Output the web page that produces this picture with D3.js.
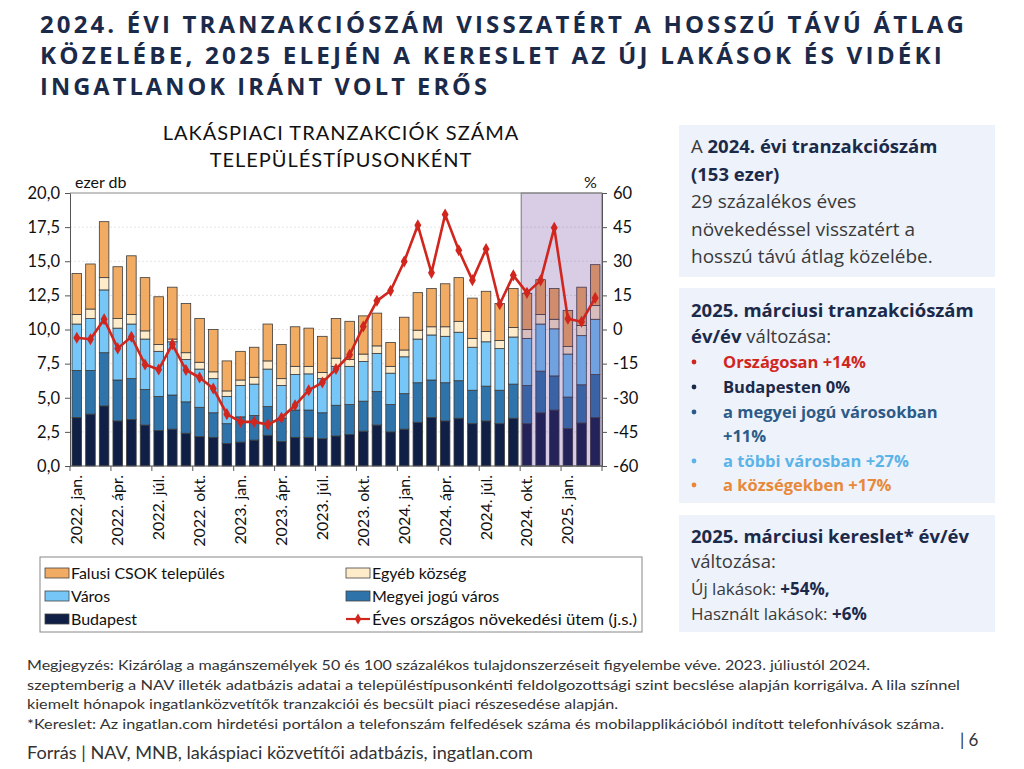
<!DOCTYPE html>
<html>
<head>
<meta charset="utf-8">
<script src="https://cdn.jsdelivr.net/npm/d3@7"></script>
<style>
  body { margin: 0; background: #fff; }
  svg { display: block; }
</style>
</head>
<body>
<div id="chart"></div>
<script>
// months from 2022 jan. to 2025 márc.
const months = ["jan.", "febr.", "márc.", "ápr.", "máj.", "jún.", "júl.", "aug.", "szept.", "okt.", "nov.", "dec."]
const categories = []
for (let y = 2022; y <= 2025; y++) {
  months.forEach((m, i) => { if (y < 2025 || i < 3) categories.push(y + ". " + m) })
}

// ezer db, per settlement type
const budapest = [3.55, 3.8, 4.4, 3.3, 3.4, 3.0, 2.6, 2.7, 2.4, 2.15, 2.1, 1.65, 1.75, 1.9, 2.25, 1.8, 2.1, 2.1, 2.0, 2.2, 2.3, 2.55, 3.0, 2.5, 2.7, 3.2, 3.55, 3.3, 3.5, 3.1, 3.3, 3.1, 3.5, 3.1, 3.9, 4.1, 2.75, 3.15, 3.55]
const megyei = [3.45, 3.2, 3.9, 3.0, 3.0, 2.6, 2.5, 2.5, 2.3, 2.15, 1.8, 1.45, 1.85, 1.8, 2.1, 1.7, 2.0, 2.0, 1.9, 2.25, 2.2, 2.2, 2.45, 2.0, 2.6, 2.9, 2.75, 2.8, 2.75, 2.45, 2.55, 2.45, 2.5, 2.8, 3.05, 2.5, 2.3, 2.8, 3.15]
const varos = [3.4, 3.8, 4.6, 3.8, 4.0, 3.7, 3.3, 3.9, 3.1, 2.8, 2.5, 2.0, 2.3, 2.3, 2.75, 2.4, 2.6, 2.65, 2.5, 2.85, 2.8, 2.9, 2.8, 2.3, 2.7, 3.2, 3.3, 3.4, 3.55, 3.15, 3.25, 3.05, 3.45, 3.45, 3.45, 3.45, 3.15, 3.6, 4.05]
const egyeb = [0.7, 0.7, 0.9, 0.7, 0.7, 0.6, 0.5, 0.2, 0.5, 0.5, 0.5, 0.4, 0.4, 0.5, 0.6, 0.5, 0.6, 0.55, 0.45, 0.6, 0.5, 0.55, 0.55, 0.5, 0.5, 0.65, 0.6, 0.7, 0.8, 0.65, 0.75, 0.6, 0.7, 0.65, 0.7, 0.7, 0.55, 0.75, 1.0]
const falusi = [3.0, 3.3, 4.1, 3.8, 4.3, 3.9, 3.5, 3.8, 3.6, 3.2, 3.1, 2.2, 2.1, 2.2, 2.7, 2.5, 2.9, 2.8, 2.65, 2.9, 2.8, 2.8, 2.4, 1.75, 2.4, 2.75, 2.8, 3.15, 3.2, 2.95, 2.95, 2.7, 2.85, 2.65, 2.55, 2.25, 2.65, 2.8, 3.0]
// éves országos növekedési ütem, % (j.s.)
const growth = [-3.6, -4.3, 4.5, -8.3, -3.2, -15.4, -17.6, -6.5, -17.8, -21.1, -25.9, -37.2, -40.6, -40.6, -41.8, -38.8, -33.3, -26.7, -23.3, -17.4, -11.1, 1.3, 12.6, 17.0, 29.9, 45.8, 24.9, 50.5, 34.8, 21.7, 35.4, 11.1, 23.8, 16.1, 21.6, 44.7, 4.7, 3.4, 13.9]

const leftTicks = [0, 2.5, 5, 7.5, 10, 12.5, 15, 17.5, 20]
const rightTicks = [-60, -45, -30, -15, 0, 15, 30, 45, 60]
const highlightFrom = "2024. okt."

const series = [
  { key: "budapest", name: "Budapest", color: "#101f46", values: budapest },
  { key: "megyei", name: "Megyei jogú város", color: "#2e74aa", values: megyei },
  { key: "varos", name: "Város", color: "#76c7f7", values: varos },
  { key: "egyeb", name: "Egyéb község", color: "#fdebc9", values: egyeb },
  { key: "falusi", name: "Falusi CSOK település", color: "#f2ab62", values: falusi }
]

const table = categories.map((c, i) => {
  const row = { cat: c, growth: growth[i] }
  series.forEach(s => { row[s.key] = s.values[i] })
  return row
})

const W = 1024, H = 769
const M = { TOP: 193, LEFT: 70, RIGHT: 422, BOTTOM: 303 }
const PW = W - M.LEFT - M.RIGHT
const PH = H - M.TOP - M.BOTTOM

const svg = d3.select("#chart").append("svg")
  .attr("width", W).attr("height", H)
  .style("font-family", "Lato, 'Open Sans', sans-serif")

const navy = "#1c2a4a"

// page title
const titleLines = [
  ["2024. ÉVI TRANZAKCIÓSZÁM VISSZATÉRT A HOSSZÚ TÁVÚ ÁTLAG", 33, 927],
  ["KÖZELÉBE, 2025 ELEJÉN A KERESLET AZ ÚJ LAKÁSOK ÉS VIDÉKI", 64, 905],
  ["INGATLANOK IRÁNT VOLT ERŐS", 95, 450]
]
titleLines.forEach(t => {
  svg.append("text")
    .attr("x", 40).attr("y", t[1])
    .attr("textLength", t[2]).attr("lengthAdjust", "spacingAndGlyphs")
    .style("font-family", "'Open Sans', sans-serif")
    .style("font-weight", 700).style("font-size", "23px")
    .style("letter-spacing", "3px")
    .attr("fill", navy).text(t[0])
})

// chart title
svg.append("text").attr("x", 341).attr("y", 140).attr("text-anchor", "middle")
  .style("font-size", "20px").attr("fill", "#111").style("letter-spacing", "1px")
  .text("LAKÁSPIACI TRANZAKCIÓK SZÁMA")
svg.append("text").attr("x", 341).attr("y", 167).attr("text-anchor", "middle")
  .style("font-size", "20px").attr("fill", "#111").style("letter-spacing", "1px")
  .text("TELEPÜLÉSTÍPUSONKÉNT")
svg.append("text").attr("x", 75).attr("y", 188).style("font-size", "16px").attr("fill", "#111").text("ezer db")
svg.append("text").attr("x", 584).attr("y", 188).style("font-size", "16px").attr("fill", "#111").text("%")

const g = svg.append("g").attr("transform", `translate(${M.LEFT}, ${M.TOP})`)

// scales
const x = d3.scaleBand().domain(categories).range([0, PW]).paddingInner(0.3).paddingOuter(0.15)
const y = d3.scaleLinear().domain([0, 20]).range([PH, 0])
const y2 = d3.scaleLinear().domain([-60, 60]).range([PH, 0])
const step = x.step()

// gridlines
g.append("g").selectAll("line").data(leftTicks.slice(1, -1)).join("line")
  .attr("x1", 0).attr("x2", PW)
  .attr("y1", d => y(d)).attr("y2", d => y(d))
  .attr("stroke", "#e4e4e4").attr("stroke-dasharray", "2,2")

// stacked bars
const stack = d3.stack().keys(series.map(s => s.key))
const layers = stack(table)
g.append("g").selectAll("g").data(layers).join("g")
  .attr("fill", (d, i) => series[i].color)
  .selectAll("rect").data(d => d).join("rect")
    .attr("x", d => x(d.data.cat))
    .attr("width", x.bandwidth())
    .attr("y", d => y(d[1]))
    .attr("height", d => y(d[0]) - y(d[1]))
    .attr("stroke", "#3c3c3c").attr("stroke-width", 0.8)

// highlighted months
const hx = x(highlightFrom) - 1
g.append("rect")
  .attr("x", hx).attr("y", 0)
  .attr("width", PW - hx).attr("height", PH)
  .attr("fill", "rgb(98,48,152)").attr("fill-opacity", 0.24)
  .attr("stroke", "#777").attr("stroke-width", 1)

// axes
const leftAxis = d3.axisLeft(y).tickValues(leftTicks).tickSize(5).tickPadding(5)
  .tickFormat(d => d3.format(".1f")(d).replace(".", ","))
const rightAxis = d3.axisRight(y2).tickValues(rightTicks).tickSize(5).tickPadding(6)
  .tickFormat(d => String(d))

const ga = g.append("g").call(leftAxis)
const gr = g.append("g").attr("transform", `translate(${PW}, 0)`).call(rightAxis)
;[ga, gr].forEach(a => {
  a.select(".domain").attr("stroke", "#555")
  a.selectAll(".tick line").attr("stroke", "#555")
  a.selectAll(".tick text").style("font-size", "16.5px").attr("fill", "#111")
    .style("font-family", "Lato, sans-serif")
})

// top frame line
g.append("line").attr("x1", 0).attr("x2", PW).attr("y1", 0).attr("y2", 0)
  .attr("stroke", "#888")

// bottom axis: ticks at quarter boundaries
const bottom = g.append("g").attr("transform", `translate(0, ${PH})`)
bottom.append("line").attr("x1", 0).attr("x2", PW).attr("stroke", "#555")
const qIdx = d3.range(0, categories.length + 1, 3)
bottom.selectAll("line.q").data(qIdx).join("line").attr("class", "q")
  .attr("x1", d => d * step).attr("x2", d => d * step)
  .attr("y1", 0).attr("y2", 5).attr("stroke", "#555")
bottom.selectAll("text").data(categories.filter((c, i) => i % 3 === 0)).join("text")
  .attr("transform", d => `translate(${x(d) + x.bandwidth() / 2 + 5.5}, 9) rotate(-90)`)
  .attr("text-anchor", "end")
  .style("font-size", "16px").attr("fill", "#111")
  .text(d => d)

// growth line
const line = d3.line()
  .x(d => x(d.cat) + x.bandwidth() / 2)
  .y(d => y2(d.growth))
g.append("path").datum(table)
  .attr("fill", "none").attr("stroke", "#d0261e").attr("stroke-width", 2.6)
  .attr("stroke-linejoin", "round")
  .attr("d", line)
g.append("g").selectAll("path").data(table).join("path")
  .attr("transform", d => `translate(${x(d.cat) + x.bandwidth() / 2}, ${y2(d.growth)})`)
  .attr("d", d3.symbol().type(d3.symbolDiamond).size(42))
  .attr("fill", "#d0261e")

// legend
const lg = svg.append("g")
lg.append("rect").attr("x", 40).attr("y", 557).attr("width", 602).attr("height", 75)
  .attr("fill", "#fff").attr("stroke", "#888")
const legendItems = [
  { s: series[4], cx: 45, cy: 573 }, { s: series[3], cx: 346, cy: 573 },
  { s: series[2], cx: 45, cy: 596 }, { s: series[1], cx: 346, cy: 596 },
  { s: series[0], cx: 45, cy: 619 }
]
legendItems.forEach(it => {
  lg.append("rect").attr("x", it.cx).attr("y", it.cy - 5).attr("width", 24).attr("height", 10)
    .attr("fill", it.s.color).attr("stroke", "#444").attr("stroke-width", 0.8)
  lg.append("text").attr("x", it.cx + 26).attr("y", it.cy + 6)
    .style("font-size", "16px").attr("fill", "#111").text(it.s.name)
})
lg.append("line").attr("x1", 346).attr("x2", 370).attr("y1", 619).attr("y2", 619)
  .attr("stroke", "#d0261e").attr("stroke-width", 2.2)
lg.append("path").attr("transform", "translate(358, 619)")
  .attr("d", d3.symbol().type(d3.symbolDiamond).size(36)).attr("fill", "#d0261e")
lg.append("text").attr("x", 372).attr("y", 625)
  .attr("textLength", 265).attr("lengthAdjust", "spacingAndGlyphs")
  .style("font-size", "16px").attr("fill", "#111").text("Éves országos növekedési ütem (j.s.)")

// right-side boxes
const boxes = [[679, 125, 316, 152], [679, 288, 316, 215], [679, 515, 316, 117]]
boxes.forEach(b => {
  svg.append("rect").attr("x", b[0]).attr("y", b[1]).attr("width", b[2]).attr("height", b[3])
    .attr("fill", "#eef2fb")
})
const gray = "#3a3a3a"
function rich(xp, yp, parts, size) {
  const t = svg.append("text").attr("x", xp).attr("y", yp)
    .style("font-family", "'Open Sans', sans-serif").style("font-size", (size || 18.5) + "px")
  parts.forEach(p => {
    t.append("tspan").text(p[0]).attr("fill", p[2] || (p[1] ? navy : gray))
      .style("font-weight", p[1] ? 700 : 400)
  })
  return t
}
rich(691, 153, [["A ", false], ["2024. évi tranzakciószám", true]])
rich(691, 181, [["(153 ezer)", true]])
rich(691, 208, [["29 százalékos éves", false]], 19)
rich(691, 236, [["növekedéssel visszatért a", false]], 19)
rich(691, 263, [["hosszú távú átlag közelébe.", false]], 19)

rich(691, 317, [["2025. márciusi tranzakciószám", true]])
rich(691, 343, [["év/év", true], [" változása:", false]])
const bullets = [
  ["Országosan +14%", 368, "#d0261e"],
  ["Budapesten 0%", 393, navy],
  ["a megyei jogú városokban", 418, "#2c5b88"],
  ["+11%", 442, "#2c5b88", true],
  ["a többi városban +27%", 467, "#5bb4e8"],
  ["a községekben +17%", 491, "#e8893a"]
]
bullets.forEach(b => {
  if (!b[3]) svg.append("circle").attr("cx", 694).attr("cy", b[1] - 6).attr("r", 2.4).attr("fill", b[2])
  rich(723, b[1], [[b[0], true, b[2]]], 16.5)
})

rich(691, 543, [["2025. márciusi kereslet* év/év", true]])
rich(691, 568, [["változása:", false]])
rich(691, 595, [["Új lakások: ", false], ["+54%,", true]], 17)
rich(691, 620, [["Használt lakások: ", false], ["+6%", true]], 17)

// notes
const notes = [
  ["Megjegyzés: Kizárólag a magánszemélyek 50 és 100 százalékos tulajdonszerzéseit figyelembe véve. 2023. júliustól 2024.", 670, 843],
  ["szeptemberig a NAV illeték adatbázis adatai a településtípusonkénti feldolgozottsági szint becslése alapján korrigálva. A lila színnel", 690, 933],
  ["kiemelt hónapok ingatlanközvetítők tranzakciói és becsült piaci részesedése alapján.", 709, 591],
  ["*Kereslet: Az ingatlan.com hirdetési portálon a telefonszám felfedések száma és mobilapplikációból indított telefonhívások száma.", 729, 917]
]
notes.forEach(n => {
  svg.append("text").attr("x", 27).attr("y", n[1])
    .attr("textLength", n[2]).attr("lengthAdjust", "spacingAndGlyphs")
    .style("font-size", "14px").attr("fill", "#333").text(n[0])
})
svg.append("text").attr("x", 27).attr("y", 759)
  .attr("textLength", 506).attr("lengthAdjust", "spacingAndGlyphs")
  .style("font-size", "17px").attr("fill", "#333")
  .text("Forrás | NAV, MNB, lakáspiaci közvetítői adatbázis, ingatlan.com")
svg.append("text").attr("x", 960).attr("y", 746)
  .style("font-size", "17px").attr("fill", "#333").text("| 6")
</script>
</body>
</html>
